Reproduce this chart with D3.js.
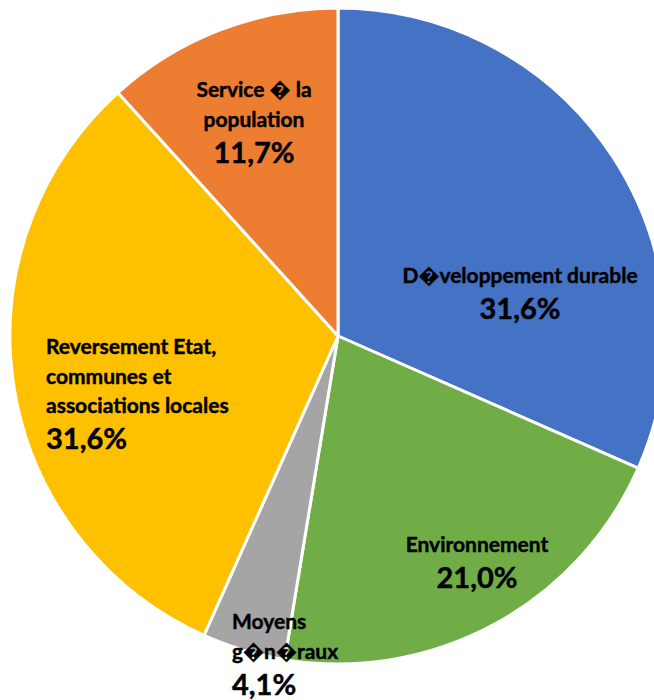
<!DOCTYPE html>
<html>
<head>
<meta charset="utf-8">
<script src="https://cdn.jsdelivr.net/npm/d3@7"></script>
<style>
  body { margin: 0; background: #fff; }
  .lbl { font-family: Lato, "Open Sans", sans-serif; font-weight: bold; fill: #000; stroke: #000; stroke-width: 0.45px; }
</style>
</head>
<body>
<div id="chart"></div>
<script>
// data, clockwise from 12 o'clock
var categories = [
  ["D\uFFFDveloppement durable"],
  ["Environnement"],
  ["Moyens", "g\uFFFDn\uFFFDraux"],
  ["Reversement Etat,", "communes et", "associations locales"],
  ["Service \uFFFD la", "population"]
];
var shares = [31.6, 21.0, 4.1, 31.6, 11.7];
var colors = ["#4472C4", "#70AD47", "#A5A5A5", "#FFC000", "#ED7D31"];

// label anchor (relative to pie centre), first baseline, alignment
var labelPos = [
  { x: 182, y: -53, anchor: "middle" },
  { x: 139, y: 216, anchor: "middle" },
  { x: -106, y: 293, anchor: "start" },
  { x: -292, y: 18, anchor: "start" },
  { x: -84, y: -239, anchor: "middle" }
];

var svgWidth = 654;
var svgHeight = 700;
var cx = 338, cy = 336, radius = 328;
var lineGap = 29.5, pctGap = 36;

var svg = d3.select("#chart")
  .append("svg")
  .attr("width", svgWidth)
  .attr("height", svgHeight);

var g = svg.append("g")
  .attr("transform", `translate(${cx}, ${cy})`);

var pie = d3.pie().sort(null).value(d => d);
var arc = d3.arc().innerRadius(0).outerRadius(radius);

var arcs = pie(shares);

g.selectAll("path.slice")
  .data(arcs)
  .enter()
  .append("path")
  .attr("class", "slice")
  .attr("d", arc)
  .attr("fill", (d, i) => colors[i])
  .attr("stroke", "#fff")
  .attr("stroke-width", 3)
  .attr("stroke-linejoin", "round");

var labels = g.selectAll("g.label")
  .data(arcs)
  .enter()
  .append("g")
  .attr("class", "label")
  .attr("transform", (d, i) => `translate(${labelPos[i].x}, ${labelPos[i].y})`);

labels.each(function(d, i) {
  var sel = d3.select(this);
  var lines = categories[i];
  lines.forEach(function(t, j) {
    sel.append("text")
      .attr("class", "lbl")
      .attr("y", j * lineGap)
      .attr("text-anchor", labelPos[i].anchor)
      .style("font-size", "21px")
      .text(t);
  });
  sel.append("text")
    .attr("class", "lbl")
    .attr("y", (lines.length - 1) * lineGap + pctGap)
    .attr("text-anchor", labelPos[i].anchor)
    .style("font-size", "29px")
    .text(d3.format(".1f")(shares[i]).replace(".", ",") + "%");
});
</script>
</body>
</html>
